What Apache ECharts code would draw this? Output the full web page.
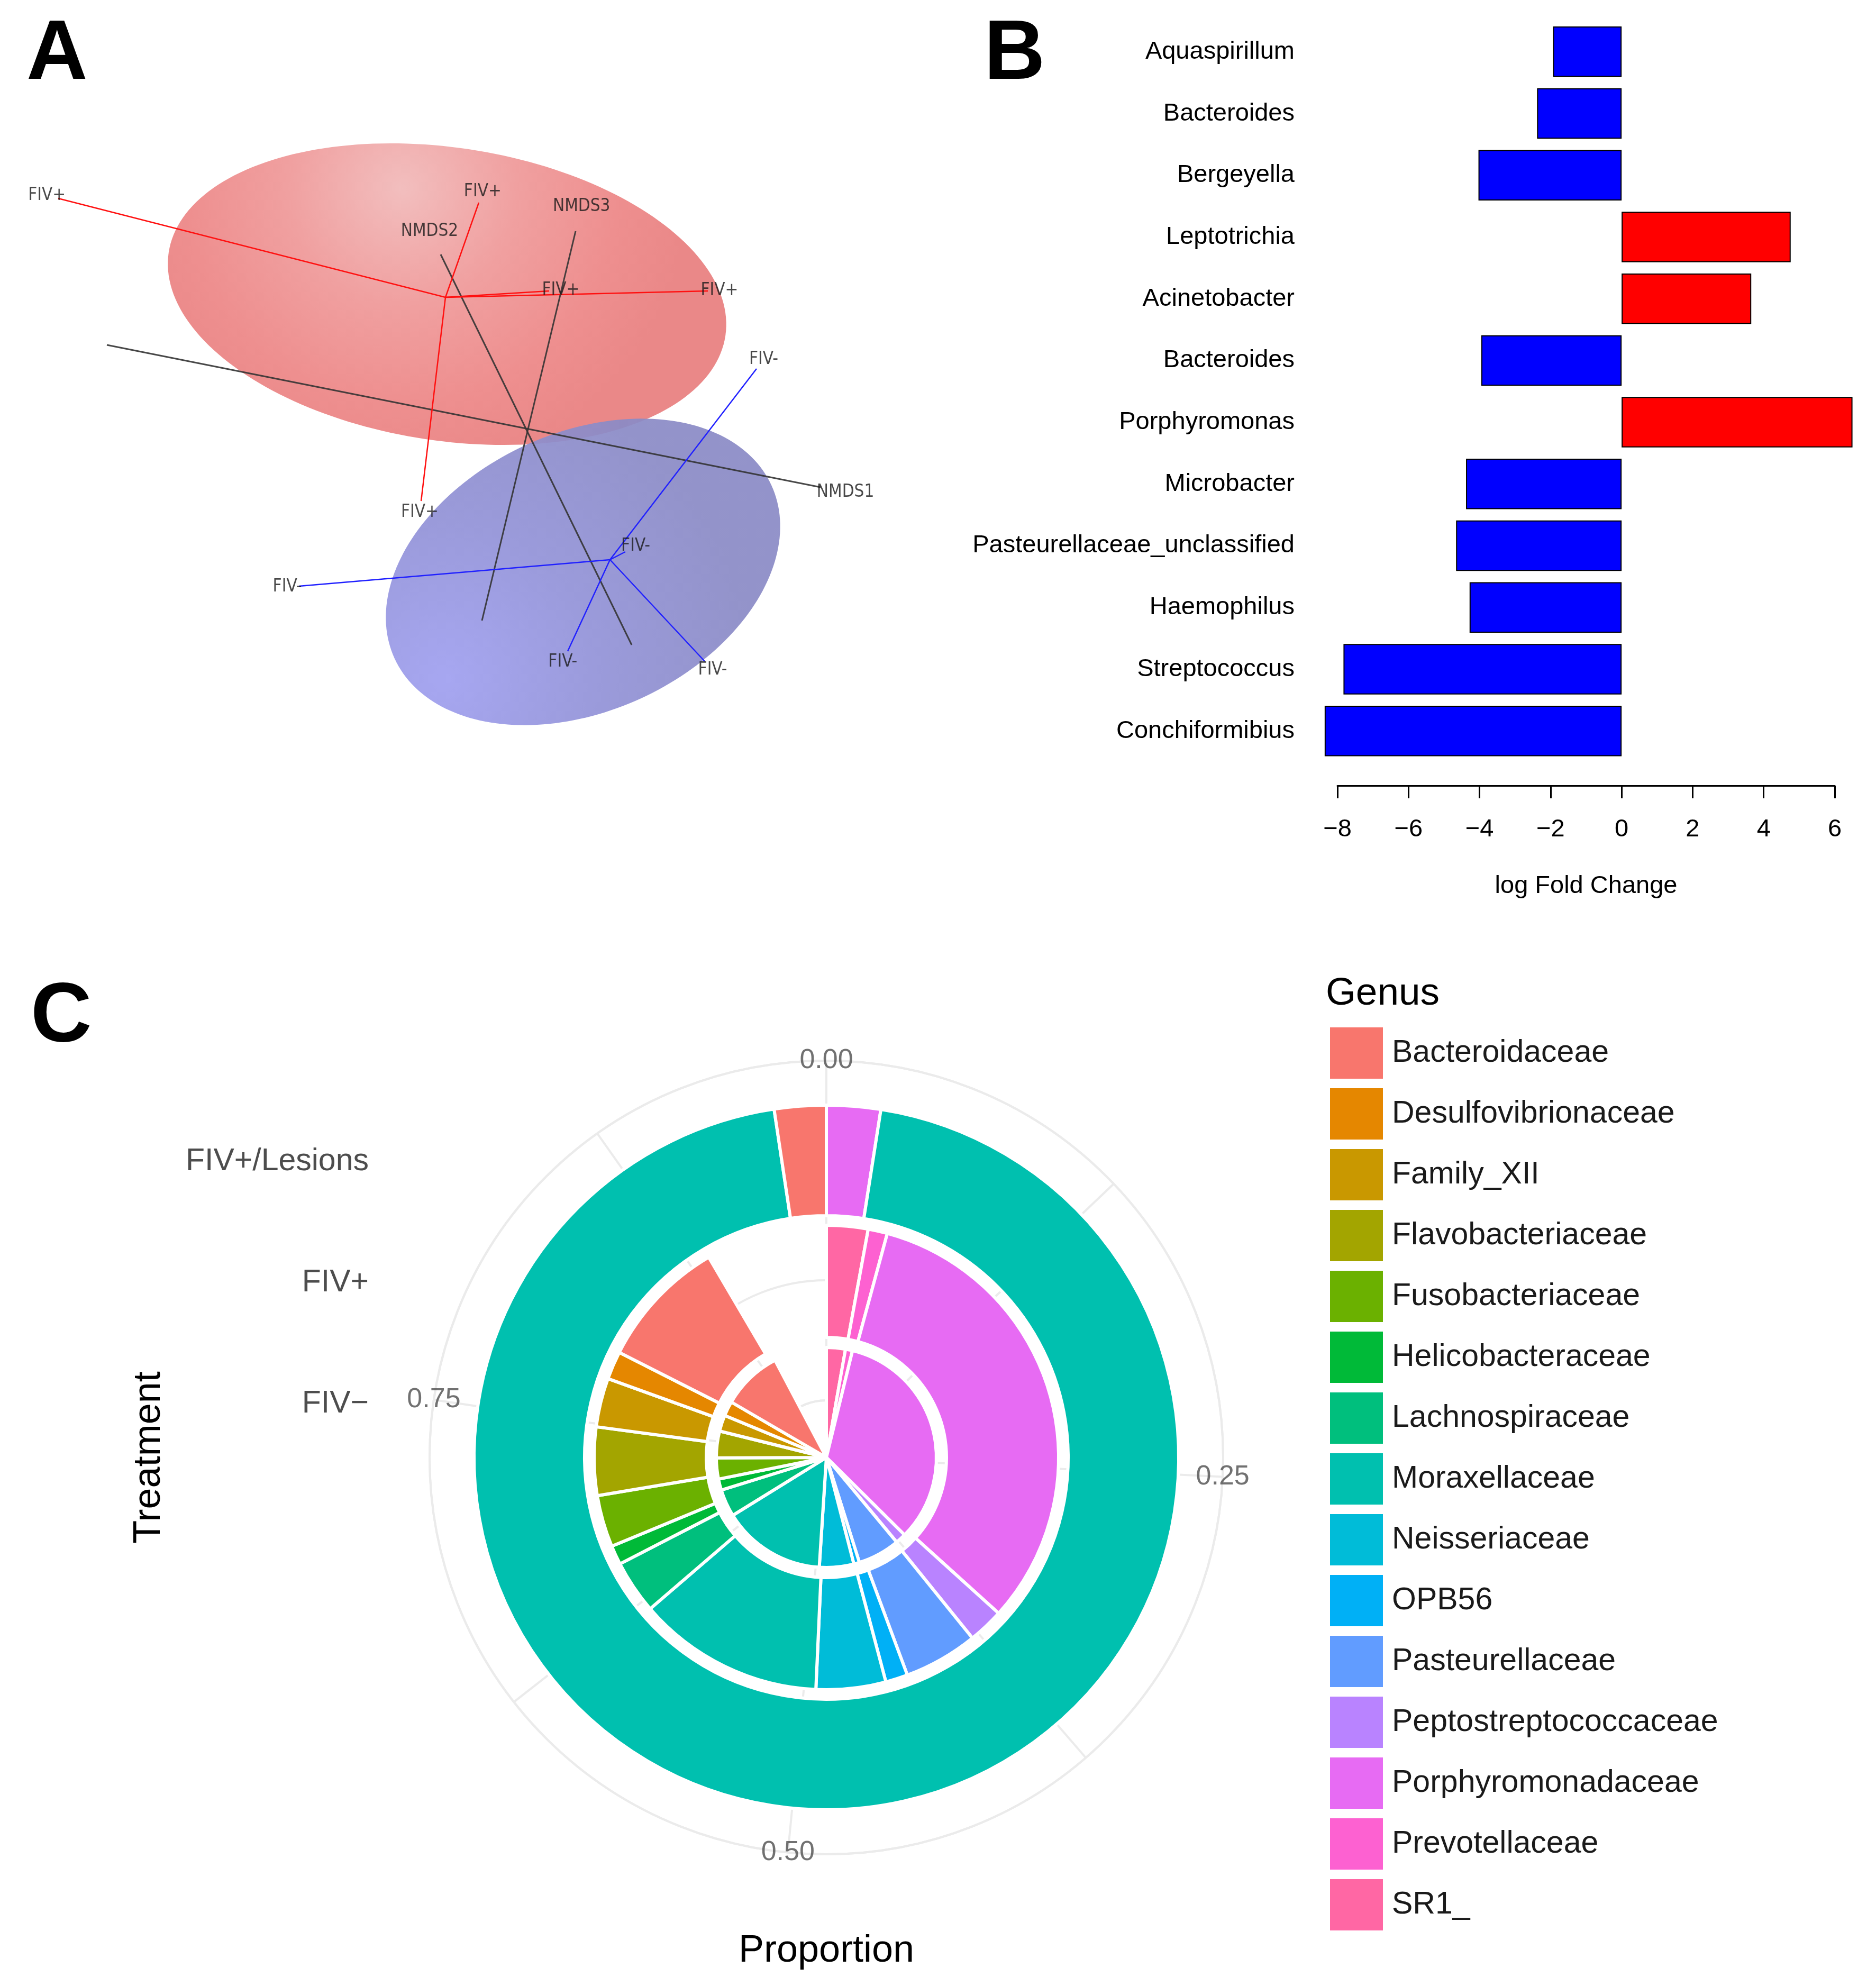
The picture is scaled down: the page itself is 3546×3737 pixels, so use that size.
<!DOCTYPE html>
<html>
<head>
<meta charset="utf-8">
<script src="https://cdn.jsdelivr.net/npm/echarts@6.0.0/dist/echarts.min.js"></script>
<style>
  html, body { margin: 0; padding: 0; background: #fff; }
  #chart { width: 3546px; height: 3737px; }
</style>
</head>
<body>
<div id="chart"></div>
<script>
// ---- panel A : NMDS projection (screen units)
var nmdsAxisNames = ['NMDS1', 'NMDS2', 'NMDS3'];
var nmdsAxisFrom = [[-79.8, 15.8], [19.4, -40.9], [-8.9, -36.3]];
var nmdsAxisTo = [[55.1, -11.1], [-16.7, 32.9], [8.8, 37.3]];

var fivPosCentroid = [-15.8, 24.8];
var fivPosPoints = [[-89.0, 43.5], [-9.5, 42.7], [3.8, 26.0], [33.8, 26.0], [-20.4, -13.7]];
var fivNegCentroid = [15.3, -24.8];
var fivNegPoints = [[43.0, 11.3], [18.2, -23.3], [-43.5, -29.8], [7.3, -42.1], [33.2, -44.0]];

// ellipsoid outlines: centre x, centre y, semi axis a, semi axis b, tilt (deg)
var fivPosEllipse = [-15.5, 25.4, 53.2, 27.7, -8.5];
var fivNegEllipse = [10.2, -27.1, 39.2, 26.3, 24.7];

// ---- panel B : log fold change
var taxa = ['Aquaspirillum', 'Bacteroides', 'Bergeyella', 'Leptotrichia', 'Acinetobacter', 'Bacteroides',
  'Porphyromonas', 'Microbacter', 'Pasteurellaceae_unclassified', 'Haemophilus', 'Streptococcus', 'Conchiformibius'];
var logFold = [-1.93, -2.38, -4.03, 4.76, 3.65, -3.95, 6.50, -4.38, -4.66, -4.28, -7.83, -8.36];

// ---- panel C : genus proportions per treatment
var treatments = ['FIV−', 'FIV+', 'FIV+/Lesions'];
var genera = ['Bacteroidaceae', 'Desulfovibrionaceae', 'Family_XII', 'Flavobacteriaceae', 'Fusobacteriaceae',
  'Helicobacteraceae', 'Lachnospiraceae', 'Moraxellaceae', 'Neisseriaceae', 'OPB56', 'Pasteurellaceae',
  'Peptostreptococcaceae', 'Porphyromonadaceae', 'Prevotellaceae', 'SR1_'];
var genusColors = ['#F8766D', '#E58700', '#C99800', '#A3A500', '#6BB100', '#00BA38', '#00BF7D', '#00C0AF',
  '#00BCD8', '#00B0F6', '#619CFF', '#B983FF', '#E76BF3', '#FD61D1', '#FF67A4'];
var propFivNeg = [0.086, 0.021, 0.023, 0.038, 0.030, 0.016, 0.039, 0.147, 0.049, 0.008, 0.060, 0.015, 0.326, 0.010, 0.027];
var propFivPos = [0.088, 0.019, 0.033, 0.046, 0.035, 0.013, 0.036, 0.126, 0.047, 0.015, 0.050, 0.024, 0.315, 0.013, 0.028];
var propLesions = [0.023, 0, 0, 0, 0, 0, 0, 0.923, 0, 0, 0, 0, 0.024, 0, 0];
var proportionTicks = [0, 0.25, 0.5, 0.75];

var FONT = '"Liberation Sans", Arial, sans-serif';
var NARROW = '"Liberation Sans Narrow", "DejaVu Sans Condensed", sans-serif';

var chart = echarts.init(document.getElementById('chart'), null, {renderer: 'canvas'});

function sum(a) { return a.reduce(function (s, v) { return s + v; }, 0); }
var thetaMax = Math.max(sum(propFivNeg), sum(propFivPos), sum(propLesions));

// stacked like ggplot: last level starts at 0 and runs clockwise
function ringData(props) {
  var out = [];
  for (var i = genera.length - 1; i >= 0; i--) {
    if (props[i] > 0) out.push({name: genera[i], value: props[i], itemStyle: {color: genusColors[i]}});
  }
  out.push({name: '', value: thetaMax - sum(props), itemStyle: {color: 'rgba(0,0,0,0)', borderWidth: 0}});
  return out;
}

var centerC = [1562, 2755];
function ringSeries(props, r) {
  return {
    type: 'pie', center: centerC, radius: r, startAngle: 90, clockwise: true,
    silent: true, animation: false, z: 3,
    label: {show: false}, labelLine: {show: false},
    itemStyle: {borderColor: '#fff', borderWidth: 6},
    emphasis: {disabled: true},
    data: ringData(props)
  };
}

// ellipsoid drawn as polygon through the axis scales
var ellipseFills = [
  new echarts.graphic.RadialGradient(0.42, 0.15, 0.95, [
    {offset: 0, color: '#F2BEBE'}, {offset: 0.4, color: '#F0A0A0'},
    {offset: 0.75, color: '#EE8F8F'}, {offset: 1, color: '#EA8888'}]),
  new echarts.graphic.RadialGradient(0.15, 0.85, 1.0, [
    {offset: 0, color: '#A0A0F0'}, {offset: 0.5, color: '#9393D8'},
    {offset: 1, color: '#8B8BC6'}])
];
function renderEllipse(params, api) {
  var cx = api.value(0), cy = api.value(1), a = api.value(2), b = api.value(3);
  var phi = api.value(4) * Math.PI / 180;
  var pts = [];
  for (var i = 0; i < 200; i++) {
    var t = i / 200 * Math.PI * 2;
    pts.push(api.coord([
      cx + a * Math.cos(t) * Math.cos(phi) - b * Math.sin(t) * Math.sin(phi),
      cy + a * Math.cos(t) * Math.sin(phi) + b * Math.sin(t) * Math.cos(phi)
    ]));
  }
  return {type: 'polygon', shape: {points: pts},
    style: {fill: ellipseFills[params.dataIndex], opacity: params.dataIndex === 1 ? 0.93 : 1}};
}

var segs = [];
nmdsAxisNames.forEach(function (n, i) {
  segs.push({coords: [nmdsAxisFrom[i], nmdsAxisTo[i]], lineStyle: {color: '#333', width: 3, opacity: 0.9}});
});
fivPosPoints.forEach(function (p) {
  segs.push({coords: [fivPosCentroid, p], lineStyle: {color: '#FF1010', width: 2.5, opacity: 1}});
});
fivNegPoints.forEach(function (p) {
  segs.push({coords: [fivNegCentroid, p], lineStyle: {color: '#2020FF', width: 2.5, opacity: 1}});
});

// labels just beyond the line ends
function beyond(from, to, px) {
  var dx = to[0] - from[0], dy = to[1] - from[1];
  var len = Math.sqrt(dx * dx + dy * dy) || 1;
  return [dx / len * px, -dy / len * px];
}
var labelsA = [];
nmdsAxisNames.forEach(function (n, i) {
  labelsA.push({name: n, value: nmdsAxisTo[i], label: {offset: beyond(nmdsAxisFrom[i], nmdsAxisTo[i], 48)}});
});
fivPosPoints.forEach(function (p) {
  labelsA.push({name: 'FIV+', value: p, label: {offset: beyond(fivPosCentroid, p, 22)}});
});
fivNegPoints.forEach(function (p) {
  labelsA.push({name: 'FIV-', value: p, label: {offset: beyond(fivNegCentroid, p, 22)}});
});

var option = {
  backgroundColor: '#fff',
  animation: false,
  textStyle: {fontFamily: FONT},
  grid: [
    {left: 0, top: 250, width: 1780, height: 1400, outerBoundsMode: 'none'},
    {left: 2528, top: 39.5, width: 940, height: 1400.5, outerBoundsMode: 'none'},
    {left: 705, top: 2196, width: 10, height: 458, outerBoundsMode: 'none'}
  ],
  xAxis: [
    {gridIndex: 0, type: 'value', min: -100, max: 78, show: false},
    {gridIndex: 1, type: 'value', min: -8, max: 6, interval: 2, offset: 45,
      axisLine: {show: true, onZero: false, lineStyle: {color: '#000', width: 3}},
      axisTick: {show: true, length: 24, lineStyle: {color: '#000', width: 3}},
      splitLine: {show: false},
      axisLabel: {fontSize: 47, color: '#000', margin: 60, fontFamily: FONT,
        formatter: function (v) { return v < 0 ? '\u2212' + Math.abs(v) : String(v); }},
      name: 'log Fold Change', nameLocation: 'middle', nameGap: 167,
      nameTextStyle: {fontSize: 47, color: '#000', fontFamily: FONT}},
    {gridIndex: 2, type: 'value', show: false}
  ],
  yAxis: [
    {gridIndex: 0, type: 'value', min: -84, max: 56, show: false},
    {gridIndex: 1, type: 'category', data: taxa, inverse: true,
      axisLine: {show: false}, axisTick: {show: false}, splitLine: {show: false},
      axisLabel: {fontSize: 47, color: '#000', margin: 81, fontFamily: FONT, interval: 0}},
    {gridIndex: 2, type: 'category', data: treatments, boundaryGap: false,
      axisLine: {show: false}, axisTick: {show: false}, splitLine: {show: false},
      axisLabel: {fontSize: 59, color: '#4D4D4D', margin: 8, fontFamily: FONT, interval: 0}}
  ],
  polar: {center: centerC, radius: [108, 750]},
  angleAxis: {
    type: 'value', min: 0, max: thetaMax, interval: 0.125, startAngle: 90, clockwise: true,
    axisLine: {show: true, lineStyle: {color: '#EBEBEB', width: 4}},
    axisTick: {show: false}, axisLabel: {show: false},
    splitLine: {show: true, lineStyle: {color: '#EBEBEB', width: 4}}
  },
  radiusAxis: {
    type: 'value', min: 1, max: 3.828, interval: 1,
    axisLine: {show: false}, axisTick: {show: false}, axisLabel: {show: false},
    splitLine: {show: true, lineStyle: {color: '#EBEBEB', width: 4}}
  },
  legend: {
    orient: 'vertical', left: 2514, top: 1942, padding: 0, itemWidth: 100, itemHeight: 97, itemGap: 18,
    icon: 'rect', selectedMode: false, data: genera,
    itemStyle: {borderWidth: 0},
    textStyle: {fontSize: 59, color: '#1a1a1a', fontFamily: FONT, padding: [0, 0, 0, 12]}
  },
  graphic: [
    {type: 'text', x: 50, y: 105, style: {text: 'A', font: 'bold 160px ' + FONT, fill: '#000', verticalAlign: 'middle'}},
    {type: 'text', x: 1860, y: 105, style: {text: 'B', font: 'bold 160px ' + FONT, fill: '#000', verticalAlign: 'middle'}},
    {type: 'text', x: 58, y: 1924, style: {text: 'C', font: 'bold 160px ' + FONT, fill: '#000', verticalAlign: 'middle'}},
    {type: 'text', x: 282, y: 2755, rotation: Math.PI / 2,
      style: {text: 'Treatment', font: '72px ' + FONT, fill: '#000', align: 'center', verticalAlign: 'middle'}},
    {type: 'text', x: 1562, y: 3688,
      style: {text: 'Proportion', font: '72px ' + FONT, fill: '#000', align: 'center', verticalAlign: 'middle'}},
    {type: 'text', x: 2506, y: 1879,
      style: {text: 'Genus', font: '73px ' + FONT, fill: '#000', align: 'left', verticalAlign: 'middle'}}
  ],
  series: [
    {type: 'custom', xAxisIndex: 0, yAxisIndex: 0, renderItem: renderEllipse, silent: true, z: 1,
      data: [fivPosEllipse, fivNegEllipse]},
    {type: 'lines', coordinateSystem: 'cartesian2d', xAxisIndex: 0, yAxisIndex: 0, silent: true, z: 2,
      lineStyle: {opacity: 1}, data: segs},
    {type: 'scatter', xAxisIndex: 0, yAxisIndex: 0, silent: true, z: 3, symbolSize: 0.1,
      itemStyle: {color: 'rgba(0,0,0,0)'},
      label: {show: true, position: 'inside', formatter: '{b}', fontSize: 33, color: '#1a1a1a', fontFamily: NARROW},
      data: labelsA},
    {type: 'bar', xAxisIndex: 1, yAxisIndex: 1, barWidth: 95.5, clip: false, silent: true,
      data: logFold.map(function (v) {
        return {value: v, itemStyle: {color: v < 0 ? '#0000FF' : '#FF0000', borderColor: '#000', borderWidth: 2}};
      })},
    ringSeries(propFivNeg, [0, 208]),
    ringSeries(propFivPos, [227, 439]),
    ringSeries(propLesions, [457, 666]),
    {type: 'scatter', coordinateSystem: 'polar', silent: true, z: 5, symbolSize: 0.1,
      itemStyle: {color: 'rgba(0,0,0,0)'},
      label: {show: true, position: 'inside', fontSize: 52, color: '#4D4D4D', fontFamily: FONT,
        formatter: function (p) { return p.value[1].toFixed(2); }},
      data: proportionTicks.map(function (v) { return [3.828, v]; })}
  ]
};
chart.setOption(option);
</script>
</body>
</html>
